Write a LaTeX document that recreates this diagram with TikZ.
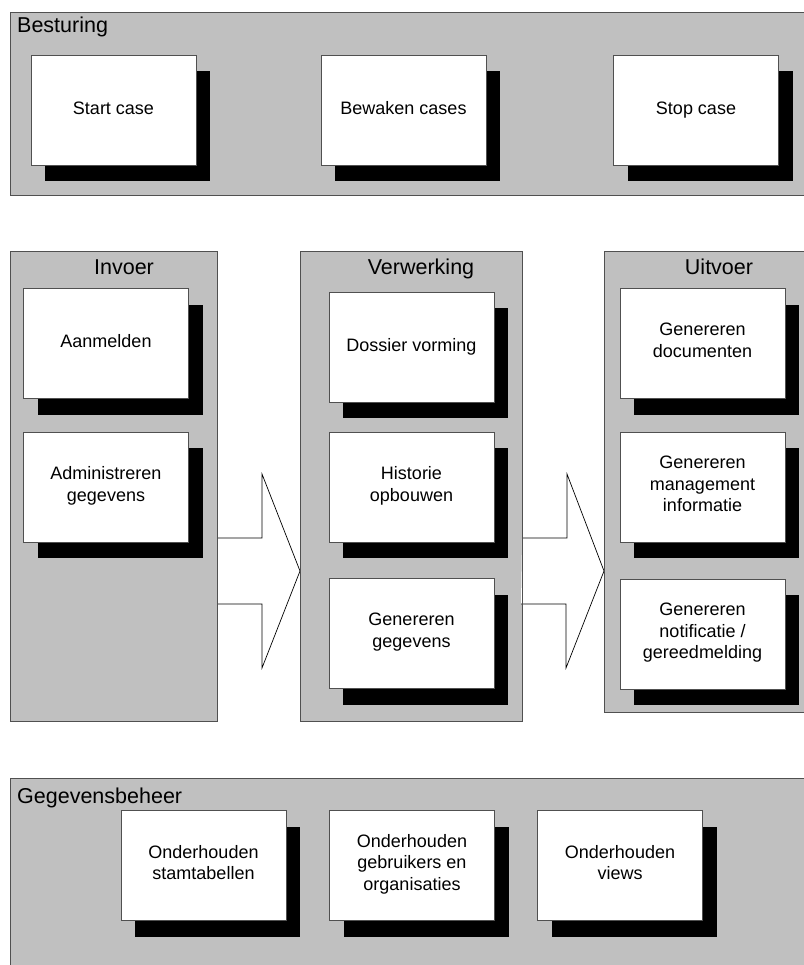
\documentclass[tikz,border=0pt]{standalone}
\usepackage{fontspec}
\setmainfont{Liberation Sans}
\usetikzlibrary{shadows}
\definecolor{panelgrey}{HTML}{C0C0C0}
\definecolor{edgegrey}{HTML}{505050}
\newcommand{\blockarrow}[2]{%
  \path[flow] (#1.east |- 0,538) -- ++(45,0) -- ++(0,-64) -- (#2.west |- 0,571)
    -- ++(-38,97) -- ++(0,-64) -- ++(-45,0);}
\newcommand{\panelside}[1]{%
  \draw[rim] (#1.north east) -- (#1.north west) -- (#1.south west) -- (#1.south east);}

\begin{document}
\begin{tikzpicture}[x=1pt, y=-1pt,
  panel/.style={fill=panelgrey, anchor=north west, inner sep=0pt, outer sep=0pt},
  rim/.style={draw=edgegrey, line width=1pt},
  task/.style={draw=edgegrey, fill=white, line width=0.8pt, minimum width=165pt, minimum height=110pt,
    align=center, font=\fontsize{18}{21.5}\selectfont,
    execute at begin node=\strut, execute at end node=\strut,
    drop shadow={shadow xshift=14pt, shadow yshift=-16pt, fill=black, opacity=1}},
  title/.style={font=\fontsize{21.5}{25}\selectfont, inner sep=0pt},
  flow/.style={draw=black, fill=white, line width=0.7pt}]
\useasboundingbox (0,0) rectangle (803,965);

\node[panel, minimum width=806pt, minimum height=183pt] (besturing) at (10,13) {};
\node[panel, minimum width=207pt, minimum height=469pt] (invoer) at (10,252) {};
\node[panel, minimum width=222pt, minimum height=469pt] (verwerking) at (300,252) {};
\node[panel, minimum width=212pt, minimum height=460pt] (uitvoer) at (604,252) {};
\node[panel, minimum width=806pt, minimum height=200pt] (beheer) at (10,778) {};

\blockarrow{invoer}{verwerking}
\blockarrow{verwerking}{uitvoer}

\panelside{besturing}
\draw[rim] (invoer.north west) rectangle (invoer.south east);
\draw[rim] (verwerking.north west) rectangle (verwerking.south east);
\panelside{uitvoer}
\panelside{beheer}

\node[title, anchor=base west] (tbesturing) at (17,33) {Besturing};
\node[title, anchor=base] (tinvoer) at (124,275) {Invoer};
\node[title, anchor=base] (tverwerking) at (421,275) {Verwerking};
\node[title, anchor=base] (tuitvoer) at (719,275) {Uitvoer};
\node[title, anchor=base west] (tbeheer) at (17,803) {Gegevensbeheer};

\node[task] (start) at (113.5,110) {Start case};
\node[task] (bewaken) at (403.5,110) {Bewaken cases};
\node[task] (stop) at (696,110) {Stop case};

\node[task] (aanmelden) at (106,343.5) {Aanmelden};
\node[task] (administreren) at (106,487) {Administreren\\gegevens};

\node[task] (dossier) at (411.5,347) {Dossier vorming};
\node[task] (historie) at (411.5,487) {Historie\\opbouwen};
\node[task] (gegevens) at (411.5,633.5) {Genereren\\gegevens};

\node[task] (documenten) at (702.5,343.5) {Genereren\\documenten};
\node[task] (management) at (702.5,487) {Genereren\\management\\informatie};
\node[task] (notificatie) at (702.5,634) {Genereren\\notificatie /\\gereedmelding};

\node[task] (stamtabellen) at (203.5,865.5) {Onderhouden\\stamtabellen};
\node[task] (gebruikers) at (412,865.5) {Onderhouden\\gebruikers en\\organisaties};
\node[task] (views) at (620,865.5) {Onderhouden\\views};
\end{tikzpicture}
\end{document}
